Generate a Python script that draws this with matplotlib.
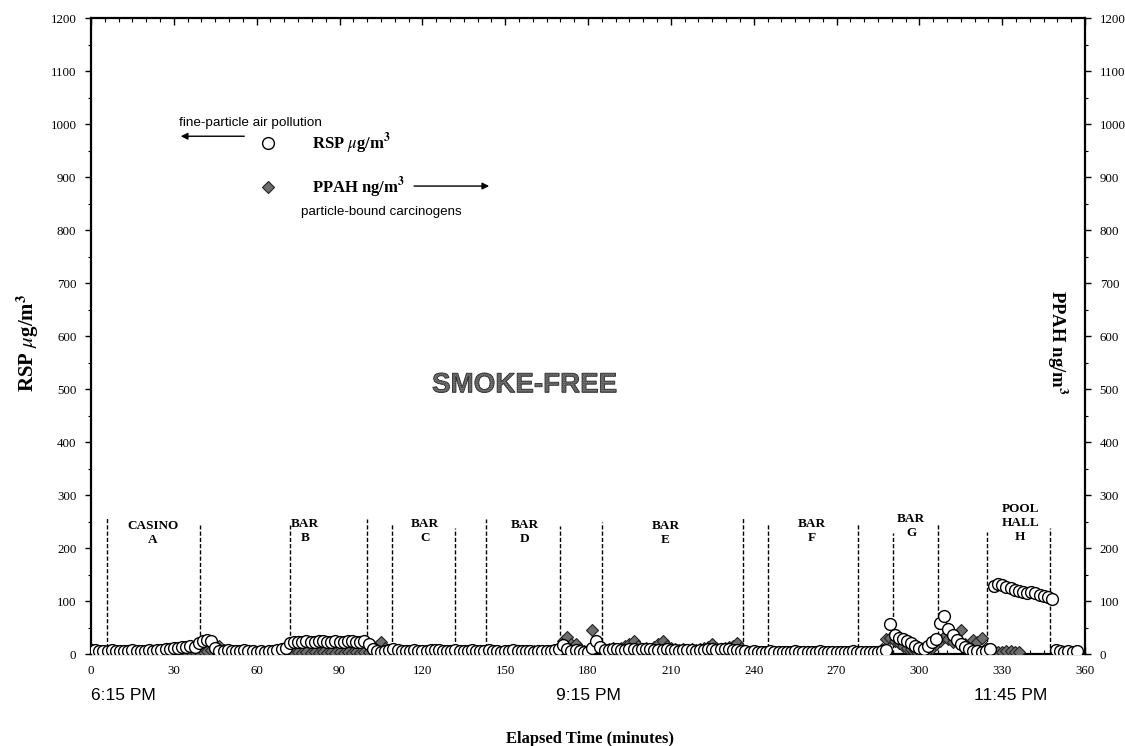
import matplotlib
matplotlib.use("Agg")
import matplotlib.pyplot as plt
import matplotlib.patheffects as pe
import matplotlib.transforms as mtransforms
import numpy as np

plt.rcParams['mathtext.fontset'] = 'stix'

# sampling step of the monitors (minutes)
step = 1.5

# RSP (ug/m3), one reading every 1.5 min from 0 to 357 min
rsp = [8, 7, 6, 5, 6, 7, 6, 5, 6, 6, 7, 6, 5, 6, 7, 6, 7, 8, 9, 10, 11, 12, 13, 14, 15, 14,   # casino A
       20, 25, 27, 24, 12,
       6, 5, 7, 6, 5, 6, 7, 6, 5, 4, 5, 4, 5, 6, 7, 9, 12,
       20, 22, 23, 22, 24, 23, 22, 24, 25, 23, 22, 24, 23, 22, 24, 25, 23, 22, 24, 19,   # bar B
       10, 6, 4, 5, 7, 9,
       7, 6, 5, 6, 7, 6, 5, 6, 7, 8, 7, 6, 5, 6, 7, 6, 5, 6, 7, 6,                      # bar C / D
       5, 6, 7, 6, 5, 4, 5, 6, 7, 6, 5, 6, 5, 4, 5, 6, 5, 6, 7, 9,
       17, 10, 6, 8, 5, 4, 3, 12, 25, 14,
       8, 7, 9, 10, 8, 7, 9, 10, 8, 9, 10, 9, 8, 7, 8, 9, 8, 7, 6, 7, 8, 7, 6, 7, 8, 9, 10, 8, 9, 10, 9, 8, 7, 6,   # bar E
       5, 4, 5, 4, 3, 4, 5, 4, 3, 4, 3, 4, 5, 4, 3, 4, 3, 4, 5, 4, 3, 4, 3, 4, 3, 4, 5, 4, 3, 4, 3, 4, 3, 5, 8,   # bar F
       56, 36, 30, 29, 25, 20, 16, 12, 9, 15, 22, 28, 58, 71,                              # bar G
       48, 36, 27, 18, 14, 9, 6, 5, 4, 5, 9,
       128, 132, 130, 127, 124, 121, 119, 117, 116, 117, 115, 112, 110, 108, 103,        # pool hall H
       8, 5, 4, 5, 4, 6]

# PPAH (ng/m3), same sampling, 0 to 336 min
ppah = [3, 4, 3, 3, 4, 3, 4, 3, 3, 4, 3, 4, 3, 3, 4, 3, 4, 3, 4, 4, 3, 4, 5, 4, 5, 4,
        4, 5, 6, 8, 10,
        15, 8, 5, 4, 3, 4, 3, 4, 3, 4, 3, 3, 4, 3, 4, 3, 4,
        3, 2, 3, 2, 3, 2, 3, 2, 3, 2, 3, 2, 3, 2, 3, 2, 3, 2, 3, 4,
        8, 15, 23, 12, 6, 4,
        4, 3, 4, 5, 4, 3, 4, 3, 4, 5, 4, 3, 4, 3, 4, 5, 4, 3, 4, 3,
        4, 5, 4, 3, 4, 3, 4, 5, 4, 3, 4, 3, 4, 5, 4, 3, 4, 3, 5, 8,
        25, 33, 18, 19, 10, 6, 8, 45, 22, 12,
        8, 10, 12, 10, 12, 15, 18, 25, 15, 10, 12, 10, 14, 18, 25, 15, 12, 10, 8, 10,
        8, 10, 8, 10, 12, 14, 19, 12, 10, 12, 14, 16, 21, 12,
        3, 4, 3, 3, 4, 3, 4, 3, 3, 4, 3, 4, 3, 3, 4, 3, 4, 3, 4, 3, 3, 4, 3, 4, 3, 3, 4, 3, 4, 3, 3, 4, 3, 10, 28,
        30, 25, 20, 15, 12, 10, 8, 6, 5, 8, 12, 18, 25, 32,
        28, 22, 25, 46, 18, 15, 27, 22, 30, 12, 8,
        5, 4, 3, 5, 6, 4, 3]

t_rsp = np.arange(len(rsp)) * step
t_ppah = np.arange(len(ppah)) * step

# venue boundaries (minutes) and heights of the dashed markers
bound_x = [5.8, 39.5, 72.1, 100, 109, 131.8, 143, 170, 185, 236, 245.2, 277.8, 290.5, 306.8, 324.6, 347.4]
bound_top = [258, 243, 243, 255, 247, 238, 255, 241, 249, 258, 247, 245, 228, 245, 230, 238]

venue_x = [22.5, 77.5, 121, 157, 208, 261, 297, 336.5]
venue_top = [253, 257, 257, 255, 253, 257, 266, 285]
venue_names = ["CASINO\nA", "BAR\nB", "BAR\nC", "BAR\nD", "BAR\nE", "BAR\nF", "BAR\nG", "POOL\nHALL\nH"]

clock_x = [0, 180, 333]
clock_labels = ["6:15 PM", "9:15 PM", "11:45 PM"]

fig = plt.figure(figsize=(11.25, 7.46), dpi=100)
ax = fig.add_axes([0.0809, 0.1233, 0.8836, 0.8525])

serif = 'Liberation Serif'
sans = 'Liberation Sans'

p_line, = ax.plot(t_ppah, ppah, ls='none', marker='D', ms=6, mfc='#6e6e6e', mec='#222222', mew=0.8,
                  label='PPAH ng/m$^\\mathbf{3}$', zorder=3)
r_line, = ax.plot(t_rsp, rsp, ls='none', marker='o', ms=8.5, mfc='white', mec='black', mew=1.0,
                  label='RSP $\\mu$g/m$^\\mathbf{3}$', zorder=4)

for x, top in zip(bound_x, bound_top):
    ax.plot([x, x], [0, top], color='black', lw=1.0, ls=(0, (3, 1.5)), zorder=2)

for x, top, name in zip(venue_x, venue_top, venue_names):
    ax.text(x, top, name, ha='center', va='top', fontsize=9.5, fontweight='bold',
            family=serif, linespacing=1.25)

ax.set_xlim(0, 360)
ax.set_ylim(0, 1200)
ax.set_xticks(np.arange(0, 361, 30))
ax.set_xticks(np.arange(0, 361, 5), minor=True)
ax.set_yticks(np.arange(0, 1201, 100))
ax.set_yticks(np.arange(0, 1201, 50), minor=True)

ax.tick_params(axis='x', which='both', direction='in', top=True, bottom=True)
ax.tick_params(axis='x', which='major', length=5, width=1, pad=8)
ax.tick_params(axis='x', which='minor', length=3, width=0.8)
ax.tick_params(axis='y', which='both', direction='out', left=True, right=True, labelright=True)
ax.tick_params(axis='y', which='major', length=4.5, width=1, pad=6)
ax.tick_params(axis='y', which='minor', length=2.5, width=0.8)
ax.tick_params(axis='both', labelsize=9.3)
for lab in ax.get_xticklabels() + ax.get_yticklabels():
    lab.set_family(serif)
for lab in ax.yaxis.get_ticklabels(which='major'):
    lab.set_family(serif)
for s in ax.spines.values():
    s.set_linewidth(1.6)

ax.set_ylabel('RSP $\\mu$g/m$^\\mathbf{3}$', fontsize=15, fontweight='bold', family=serif)
ax.yaxis.set_label_coords(-0.05, 0.49)
ax.text(0.972, 0.49, 'PPAH ng/m$^\\mathbf{3}$', transform=ax.transAxes, rotation=-90,
        ha='center', va='center', fontsize=13.5, fontweight='bold', family=serif)

fig.text(0.524, 0.01, 'Elapsed Time (minutes)', ha='center', va='center', fontsize=12,
         fontweight='bold', family=serif)

trans = mtransforms.blended_transform_factory(ax.transData, fig.transFigure)
for x, lab in zip(clock_x, clock_labels):
    ax.text(x, 0.068, lab, transform=trans, ha='left' if x < 10 else 'center', va='center',
            fontsize=12.5, family=sans)

ax.text(157, 507, 'SMOKE-FREE', ha='center', va='center', fontsize=20, fontweight='bold', family=sans,
        color='#555555',
        path_effects=[pe.PathPatchEffect(facecolor='#9a9a9a', edgecolor='#2a2a2a', hatch='........', lw=0.6)])

leg = ax.legend(handles=[r_line, p_line], loc='upper left', bbox_to_anchor=(0.155, 0.846),
                frameon=False, numpoints=1, handlelength=1, handletextpad=2.1, labelspacing=1.2,
                prop={'family': serif, 'weight': 'bold', 'size': 12})

ax.annotate('', xy=(31.5, 977), xytext=(56.5, 977),
            arrowprops=dict(arrowstyle='-|>', color='black', lw=1, mutation_scale=10))
ax.annotate('', xy=(145.2, 883), xytext=(116, 883),
            arrowprops=dict(arrowstyle='-|>', color='black', lw=1, mutation_scale=10))
ax.text(32, 1002, 'fine-particle air pollution', ha='left', va='center', fontsize=9.7, family=sans)
ax.text(76, 834, 'particle-bound carcinogens', ha='left', va='center', fontsize=9.6, family=sans)

fig.savefig('out.png', dpi=100)
